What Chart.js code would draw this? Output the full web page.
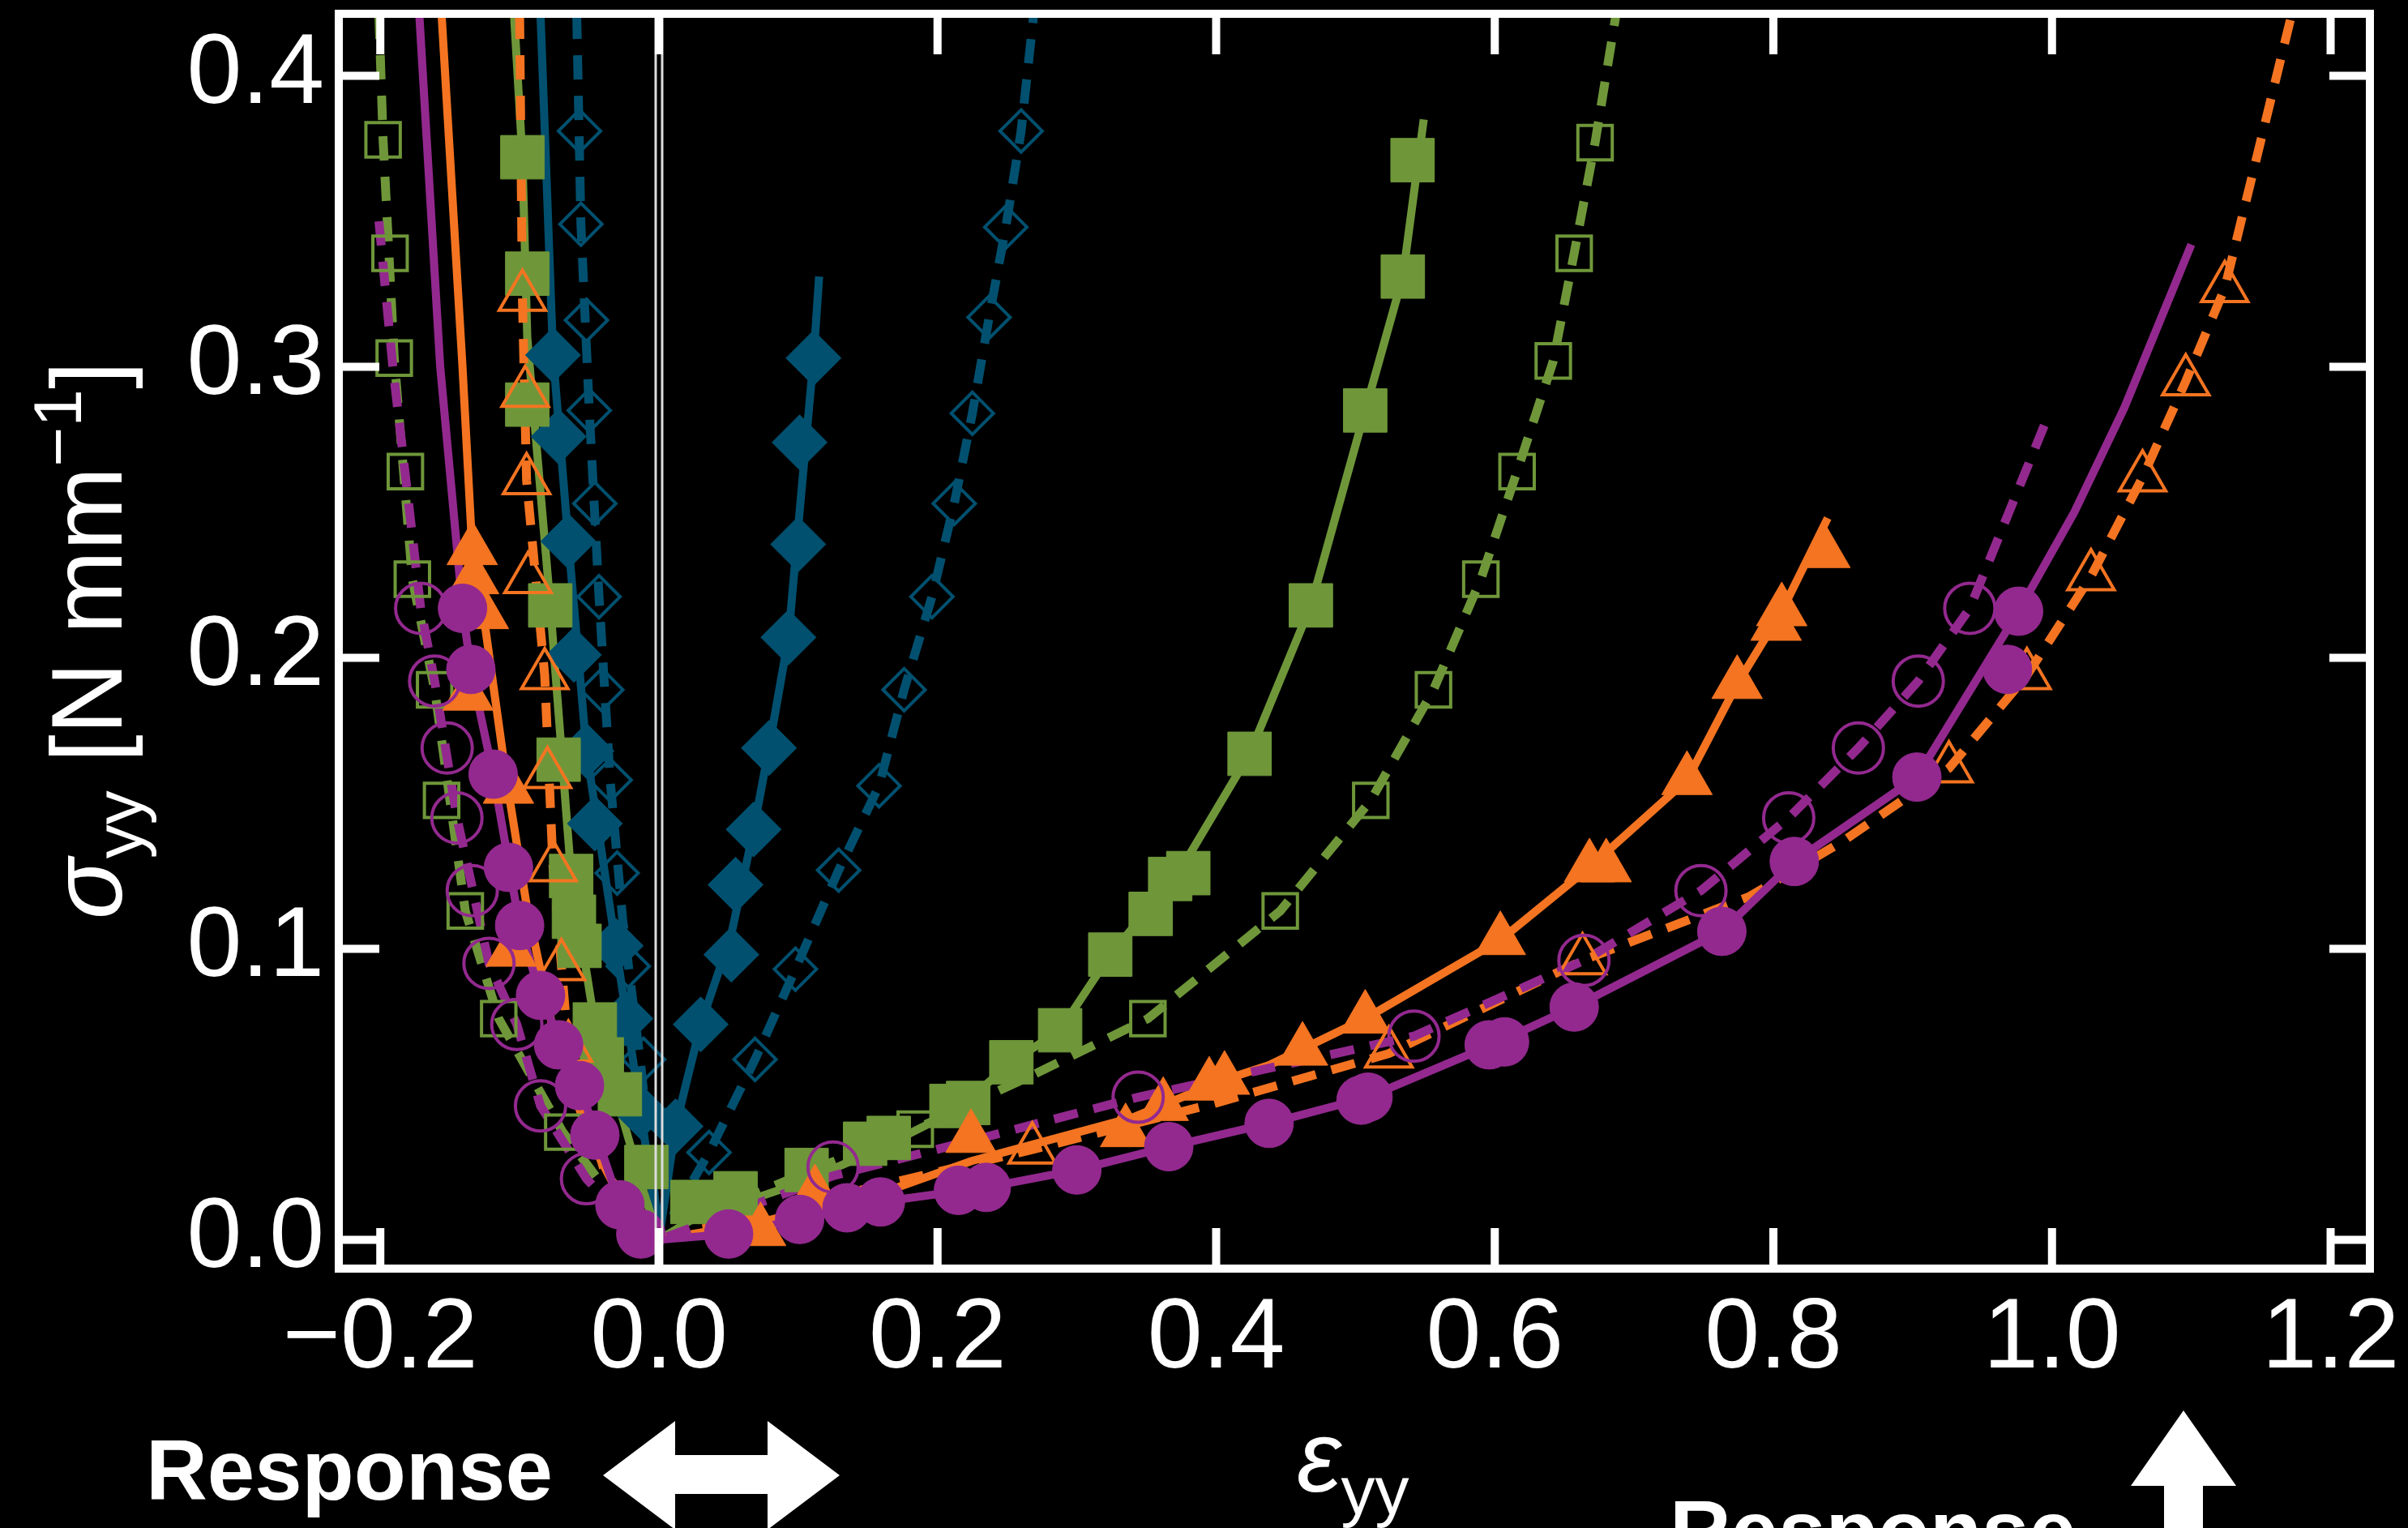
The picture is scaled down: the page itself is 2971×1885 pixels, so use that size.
<!DOCTYPE html>
<html>
<head>
<meta charset="utf-8">
<script src="https://cdn.jsdelivr.net/npm/chart.js@4.4.1/dist/chart.umd.min.js"></script>
<style>
  html, body { margin: 0; padding: 0; background: #000; }
  #wrap { width: 2971px; height: 1885px; }
</style>
</head>
<body>
<div id="wrap"><canvas id="c"></canvas></div>
<script>
// 축 눈금
const xTickValues = [-0.2, 0.0, 0.2, 0.4, 0.6, 0.8, 1.0, 1.2];
const xTickLabels = ['\u22120.2', '0.0', '0.2', '0.4', '0.6', '0.8', '1.0', '1.2'];
const yTickValues = [0.0, 0.1, 0.2, 0.3, 0.4];
const yTickLabels = ['0.0', '0.1', '0.2', '0.3', '0.4'];

// 보라 (원)
const purpleFilledX = [-0.141, -0.135, -0.119, -0.108, -0.100, -0.085, -0.072, -0.057, -0.046, -0.028, -0.013, 0.050, 0.101, 0.135, 0.159, 0.215, 0.235, 0.300, 0.366, 0.438, 0.504, 0.509, 0.596, 0.607, 0.657, 0.763, 0.815, 0.903, 0.968, 0.976];
const purpleFilledY = [0.217, 0.196, 0.160, 0.128, 0.108, 0.084, 0.067, 0.053, 0.036, 0.012, 0.002, 0.002, 0.007, 0.011, 0.013, 0.017, 0.018, 0.024, 0.032, 0.040, 0.048, 0.049, 0.067, 0.068, 0.080, 0.106, 0.130, 0.159, 0.196, 0.216];
const purpleOpenX = [-0.171, -0.161, -0.152, -0.145, -0.134, -0.122, -0.102, -0.085, -0.052, 0.125, 0.344, 0.542, 0.664, 0.748, 0.811, 0.861, 0.904, 0.941];
const purpleOpenY = [0.217, 0.192, 0.169, 0.145, 0.120, 0.095, 0.074, 0.046, 0.021, 0.025, 0.049, 0.070, 0.096, 0.120, 0.145, 0.169, 0.192, 0.217];
const purpleSolidX = [-0.172, -0.157, -0.141, -0.135, -0.119, -0.100, -0.085, -0.057, -0.028, 0, 0.050, 0.101, 0.159, 0.235, 0.300, 0.366, 0.438, 0.509, 0.598, 0.657, 0.763, 0.815, 0.903, 0.976, 1.016, 1.052, 1.100];
const purpleSolidY = [0.421, 0.300, 0.217, 0.196, 0.160, 0.108, 0.084, 0.053, 0.012, 0, 0.002, 0.007, 0.013, 0.018, 0.024, 0.032, 0.040, 0.049, 0.067, 0.080, 0.106, 0.130, 0.159, 0.216, 0.250, 0.286, 0.342];
const purpleDashX = [-0.201, -0.191, -0.171, -0.161, -0.145, -0.122, -0.102, -0.085, -0.052, -0.020, 0, 0.125, 0.240, 0.344, 0.542, 0.664, 0.748, 0.811, 0.861, 0.904, 0.941, 0.998];
const purpleDashY = [0.350, 0.300, 0.217, 0.192, 0.145, 0.095, 0.074, 0.046, 0.021, 0.004, 0, 0.022, 0.036, 0.049, 0.070, 0.096, 0.120, 0.145, 0.169, 0.192, 0.217, 0.284];

// 주황 (삼각형)
const orangeFilledX = [-0.134, -0.133, -0.126, -0.137, -0.108, -0.106, 0.073, 0.112, 0.224, 0.335, 0.362, 0.395, 0.406, 0.462, 0.507, 0.604, 0.668, 0.680, 0.738, 0.774, 0.802, 0.806, 0.837];
const orangeFilledY = [0.237, 0.227, 0.215, 0.187, 0.155, 0.099, 0.003, 0.016, 0.035, 0.037, 0.046, 0.053, 0.055, 0.065, 0.076, 0.103, 0.128, 0.128, 0.158, 0.191, 0.211, 0.216, 0.236];
const orangeOpenX = [-0.098, -0.096, -0.095, -0.094, -0.082, -0.080, -0.076, -0.070, -0.065, 0.268, 0.524, 0.663, 0.926, 0.982, 1.028, 1.065, 1.096, 1.124];
const orangeOpenY = [0.324, 0.291, 0.261, 0.227, 0.194, 0.160, 0.128, 0.094, 0.066, 0.031, 0.064, 0.096, 0.162, 0.194, 0.228, 0.262, 0.295, 0.327];
const orangeSolidX = [-0.156, -0.141, -0.134, -0.126, -0.110, -0.095, -0.075, -0.050, -0.025, 0, 0.073, 0.171, 0.224, 0.340, 0.406, 0.438, 0.507, 0.604, 0.668, 0.738, 0.774, 0.806, 0.839];
const orangeSolidY = [0.421, 0.300, 0.237, 0.215, 0.160, 0.115, 0.070, 0.035, 0.012, 0, 0.006, 0.018, 0.027, 0.042, 0.055, 0.060, 0.076, 0.103, 0.128, 0.158, 0.191, 0.216, 0.248];
const orangeDashX = [-0.100, -0.098, -0.095, -0.082, -0.076, -0.065, -0.040, -0.015, 0, 0.100, 0.268, 0.400, 0.524, 0.663, 0.783, 0.850, 0.926, 0.982, 1.028, 1.065, 1.096, 1.124, 1.172];
const orangeDashY = [0.421, 0.324, 0.261, 0.194, 0.128, 0.066, 0.025, 0.006, 0, 0.012, 0.031, 0.047, 0.064, 0.096, 0.118, 0.137, 0.162, 0.194, 0.228, 0.262, 0.295, 0.327, 0.421];

// 초록 (사각형)
const greenFilledX = [-0.098, -0.0945, -0.0945, -0.078, -0.072, -0.063, -0.061, -0.057, -0.046, -0.041, -0.028, -0.009, 0.024, 0.055, 0.106, 0.148, 0.165, 0.210, 0.222, 0.253, 0.288, 0.324, 0.353, 0.367, 0.380, 0.424, 0.468, 0.507, 0.534, 0.541];
const greenFilledY = [0.372, 0.332, 0.287, 0.218, 0.165, 0.125, 0.111, 0.101, 0.074, 0.062, 0.050, 0.025, 0.013, 0.016, 0.024, 0.033, 0.035, 0.046, 0.047, 0.061, 0.072, 0.098, 0.112, 0.124, 0.126, 0.167, 0.218, 0.285, 0.331, 0.371];
const greenOpenX = [-0.198, -0.193, -0.190, -0.182, -0.177, -0.161, -0.156, -0.139, -0.115, -0.069, 0.184, 0.351, 0.446, 0.511, 0.556, 0.590, 0.616, 0.642, 0.657, 0.672];
const greenOpenY = [0.378, 0.339, 0.303, 0.264, 0.227, 0.189, 0.151, 0.113, 0.076, 0.037, 0.038, 0.076, 0.113, 0.151, 0.189, 0.227, 0.264, 0.302, 0.339, 0.377];
const greenSolidX = [-0.104, -0.098, -0.0945, -0.078, -0.063, -0.046, -0.028, -0.010, 0, 0.024, 0.055, 0.104, 0.157, 0.215, 0.253, 0.288, 0.324, 0.373, 0.424, 0.468, 0.507, 0.534, 0.549];
const greenSolidY = [0.421, 0.372, 0.310, 0.218, 0.125, 0.074, 0.045, 0.015, 0, 0.007, 0.012, 0.020, 0.031, 0.045, 0.061, 0.072, 0.098, 0.126, 0.167, 0.218, 0.285, 0.331, 0.385];
const greenDashX = [-0.201, -0.198, -0.190, -0.177, -0.161, -0.139, -0.115, -0.069, -0.030, 0, 0.050, 0.110, 0.184, 0.270, 0.351, 0.446, 0.511, 0.556, 0.590, 0.616, 0.642, 0.657, 0.672, 0.687];
const greenDashY = [0.421, 0.378, 0.303, 0.227, 0.189, 0.113, 0.076, 0.037, 0.012, 0, 0.012, 0.024, 0.038, 0.057, 0.076, 0.113, 0.151, 0.189, 0.227, 0.264, 0.302, 0.339, 0.377, 0.421];

// 파랑 (다이아몬드)
const blueFilledX = [-0.076, -0.072, -0.065, -0.061, -0.052, -0.046, -0.031, -0.024, -0.013, 0.012, 0.030, 0.052, 0.055, 0.068, 0.079, 0.093, 0.100, 0.101, 0.111];
const blueFilledY = [0.304, 0.276, 0.240, 0.201, 0.168, 0.143, 0.101, 0.076, 0.044, 0.039, 0.074, 0.098, 0.122, 0.141, 0.169, 0.207, 0.239, 0.274, 0.303];
const blueOpenX = [-0.057, -0.056, -0.052, -0.050, -0.046, -0.043, -0.041, -0.035, -0.030, -0.022, -0.011, 0.036, 0.069, 0.098, 0.129, 0.158, 0.176, 0.196, 0.212, 0.225, 0.237, 0.249, 0.260];
const blueOpenY = [0.381, 0.349, 0.316, 0.285, 0.253, 0.221, 0.189, 0.158, 0.126, 0.094, 0.062, 0.030, 0.062, 0.093, 0.127, 0.156, 0.189, 0.221, 0.253, 0.284, 0.317, 0.348, 0.381];
const blueSolidX = [-0.085, -0.076, -0.065, -0.052, -0.031, -0.013, 0, 0.012, 0.030, 0.052, 0.068, 0.079, 0.093, 0.100, 0.111, 0.115];
const blueSolidY = [0.421, 0.304, 0.240, 0.168, 0.101, 0.044, 0, 0.039, 0.074, 0.105, 0.141, 0.169, 0.207, 0.245, 0.303, 0.331];
const blueDashX = [-0.059, -0.056, -0.050, -0.043, -0.035, -0.026, -0.013, 0, 0.036, 0.069, 0.098, 0.129, 0.158, 0.176, 0.196, 0.212, 0.225, 0.237, 0.249, 0.260, 0.269];
const blueDashY = [0.421, 0.349, 0.285, 0.221, 0.158, 0.110, 0.060, 0, 0.030, 0.062, 0.093, 0.127, 0.156, 0.189, 0.221, 0.253, 0.284, 0.317, 0.348, 0.381, 0.421];

const PURPLE = '#93298f';
const ORANGE = '#f47421';
const GREEN = '#6f973a';
const BLUE = '#01506f';
const FONT = '"Liberation Sans", Arial, Helvetica, sans-serif';

function pts(xs, ys) {
    return xs.map((x, i) => ({ x: x, y: ys[i] }));
}

function curve(xs, ys, color, dashed, order) {
    return {
        data: pts(xs, ys),
        showLine: true,
        pointRadius: 0,
        borderColor: color,
        borderWidth: dashed ? 11 : 10,
        borderDash: dashed ? [30, 20] : [],
        tension: 0,
        fill: false,
        order: order
    };
}

function markers(xs, ys, color, style, radius, filled, order) {
    return {
        data: pts(xs, ys),
        showLine: false,
        pointStyle: style,
        pointRadius: radius,
        pointBackgroundColor: filled ? color : 'rgba(0,0,0,0)',
        pointBorderColor: color,
        pointBorderWidth: filled ? 1 : 4,
        order: order
    };
}

// 텍스트 조각 그리기 (아래첨자/위첨자)
function drawParts(ctx, parts, x, y) {
    let cx = x;
    parts.forEach(p => {
        ctx.font = p.font;
        ctx.fillText(p.t, cx, y + (p.dy || 0));
        cx += ctx.measureText(p.t).width;
    });
    return cx;
}

const decor = {
    id: 'decor',
    afterDatasetsDraw(chart) {
        const { ctx, chartArea: a, scales: { x, y } } = chart;
        ctx.save();

        // x = 0 기준선
        const x0 = x.getPixelForValue(0);
        ctx.strokeStyle = '#dddddd';
        ctx.lineWidth = 3;
        [-4, 4].forEach(d => {
            ctx.beginPath();
            ctx.moveTo(x0 + d, a.top);
            ctx.lineTo(x0 + d, a.bottom);
            ctx.stroke();
        });

        // 테두리
        ctx.strokeStyle = '#ffffff';
        ctx.lineWidth = 10;
        ctx.strokeRect(a.left, a.top, a.right - a.left, a.bottom - a.top);

        // 안쪽 눈금
        const tl = 50;
        ctx.beginPath();
        xTickValues.forEach(v => {
            const px = x.getPixelForValue(v);
            ctx.moveTo(px, a.bottom); ctx.lineTo(px, a.bottom - tl);
            ctx.moveTo(px, a.top); ctx.lineTo(px, a.top + tl);
        });
        yTickValues.forEach(v => {
            const py = y.getPixelForValue(v);
            ctx.moveTo(a.left, py); ctx.lineTo(a.left + tl, py);
            ctx.moveTo(a.right, py); ctx.lineTo(a.right - tl, py);
        });
        ctx.stroke();

        // 눈금 라벨
        ctx.fillStyle = '#ffffff';
        ctx.font = '122px ' + FONT;
        ctx.textAlign = 'center';
        ctx.textBaseline = 'alphabetic';
        xTickValues.forEach((v, i) => {
            ctx.fillText(xTickLabels[i], x.getPixelForValue(v), a.bottom + 122);
        });
        ctx.textAlign = 'right';
        ctx.textBaseline = 'middle';
        yTickValues.forEach((v, i) => {
            ctx.fillText(yTickLabels[i], a.left - 18, y.getPixelForValue(v));
        });

        // y축 제목
        ctx.textAlign = 'left';
        ctx.textBaseline = 'alphabetic';
        ctx.save();
        ctx.translate(150, 1134);
        ctx.rotate(-Math.PI / 2);
        drawParts(ctx, [
            { t: '\u03c3', font: 'italic 124px ' + FONT },
            { t: 'yy', font: '84px ' + FONT, dy: 26 },
            { t: ' [N mm', font: '124px ' + FONT },
            { t: '\u22121', font: '84px ' + FONT, dy: -50 },
            { t: ']', font: '124px ' + FONT }
        ], 0, 0);
        ctx.restore();

        // x축 제목
        drawParts(ctx, [
            { t: '\u03b5', font: 'italic 124px ' + FONT },
            { t: 'yy', font: '84px ' + FONT, dy: 28 }
        ], 1600, 1840);

        // 하단 주석
        ctx.font = 'bold 105px ' + FONT;
        ctx.fillText('Response', 180, 1850);
        ctx.fillText('Response', 2060, 1925);

        // 양방향 화살표
        ctx.beginPath();
        ctx.moveTo(744, 1820);
        ctx.lineTo(833, 1753);
        ctx.lineTo(833, 1795);
        ctx.lineTo(947, 1795);
        ctx.lineTo(947, 1753);
        ctx.lineTo(1036, 1820);
        ctx.lineTo(947, 1887);
        ctx.lineTo(947, 1843);
        ctx.lineTo(833, 1843);
        ctx.lineTo(833, 1887);
        ctx.closePath();
        ctx.fill();

        // 위쪽 화살표
        ctx.beginPath();
        ctx.moveTo(2694, 1740);
        ctx.lineTo(2759, 1833);
        ctx.lineTo(2718, 1833);
        ctx.lineTo(2718, 1890);
        ctx.lineTo(2670, 1890);
        ctx.lineTo(2670, 1833);
        ctx.lineTo(2629, 1833);
        ctx.closePath();
        ctx.fill();

        ctx.restore();
    }
};

const datasets = [
    markers(purpleFilledX, purpleFilledY, PURPLE, 'circle', 30, true, 1),
    markers(purpleOpenX, purpleOpenY, PURPLE, 'circle', 31, false, 2),
    markers(orangeFilledX, orangeFilledY, ORANGE, 'triangle', 36, true, 3),
    markers(orangeOpenX, orangeOpenY, ORANGE, 'triangle', 33, false, 4),
    markers(greenFilledX, greenFilledY, GREEN, 'rect', 38, true, 5),
    markers(greenOpenX, greenOpenY, GREEN, 'rect', 30, false, 6),
    markers(blueFilledX, blueFilledY, BLUE, 'rectRot', 34, true, 7),
    markers(blueOpenX, blueOpenY, BLUE, 'rectRot', 26, false, 8),
    curve(purpleSolidX, purpleSolidY, PURPLE, false, 9),
    curve(purpleDashX, purpleDashY, PURPLE, true, 10),
    curve(orangeSolidX, orangeSolidY, ORANGE, false, 11),
    curve(orangeDashX, orangeDashY, ORANGE, true, 12),
    curve(greenSolidX, greenSolidY, GREEN, false, 13),
    curve(greenDashX, greenDashY, GREEN, true, 14),
    curve(blueSolidX, blueSolidY, BLUE, false, 15),
    curve(blueDashX, blueDashY, BLUE, true, 16)
];

new Chart(document.getElementById('c').getContext('2d'), {
    type: 'scatter',
    data: { datasets: datasets },
    options: {
        responsive: true,
        maintainAspectRatio: false,
        devicePixelRatio: 1,
        animation: false,
        layout: { autoPadding: false, padding: { left: 418, right: 47, top: 17, bottom: 320 } },
        plugins: {
            legend: { display: false },
            tooltip: { enabled: false }
        },
        scales: {
            x: { type: 'linear', display: false, min: -0.2298, max: 1.2282 },
            y: { type: 'linear', display: false, min: -0.0099, max: 0.4213 }
        }
    },
    plugins: [decor]
});
</script>
</body>
</html>
